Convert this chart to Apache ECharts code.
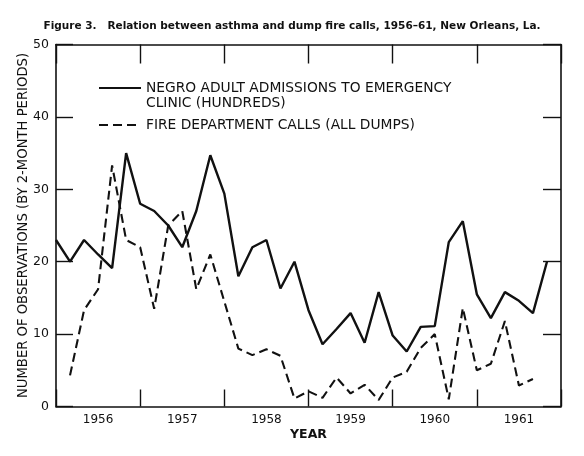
<!DOCTYPE html>
<html>
<head>
<meta charset="utf-8">
<script src="https://cdn.jsdelivr.net/npm/echarts@6/dist/echarts.min.js"></script>
<style>
  html, body { margin: 0; padding: 0; background: #ffffff; }
  #chart { width: 584px; height: 456px; }
</style>
</head>
<body>
<div id="chart"></div>
<script>
// Year labels (each year = 6 two-month periods)
var years = ['1956', '1957', '1958', '1959', '1960', '1961'];
// Two-month period index from Jan 1956
var periods = [0,1,2,3,4,5,6,7,8,9,10,11,12,13,14,15,16,17,18,19,20,21,22,23,24,25,26,27,28,29,30,31,32,33,34,35];
// Negro adult admissions to emergency clinic (hundreds)
var admissions = [23,20,23,21,19.1,35,28,27,25,22,27,34.7,29.4,18,22,23,16.3,20,13.3,8.6,10.7,12.9,8.8,15.8,9.8,7.6,11.0,11.1,22.7,25.6,15.5,12.2,15.8,14.6,12.9,20];
// Fire department calls (all dumps)
var fireCalls = [null,4.3,13.3,16.2,33.3,23,22,13.5,25,27,16.2,21,14.5,8,7.1,7.9,7.0,1.1,2.1,1.2,4.0,1.8,3.0,0.9,4.0,4.8,8.1,10.0,1.0,13.6,5.0,5.9,11.8,2.9,3.8,null];

var nameA = 'NEGRO ADULT ADMISSIONS TO EMERGENCY\nCLINIC (HUNDREDS)';
var nameB = 'FIRE DEPARTMENT CALLS (ALL DUMPS)';

function pairs(vals) {
  return periods.map(function (p, i) { return [p, vals[i]]; });
}

var ink = '#111111';
var font = 'DejaVu Sans';

var chart = echarts.init(document.getElementById('chart'), null, { renderer: 'canvas' });
chart.setOption({
  backgroundColor: '#ffffff',
  animation: false,
  title: {
    text: 'Figure 3.   Relation between asthma and dump fire calls, 1956\u201361, New Orleans, La.',
    left: 'center',
    top: 16,
    textStyle: { fontFamily: font, fontSize: 10.5, fontWeight: 'bold', color: ink }
  },
  legend: {
    orient: 'vertical',
    left: 98,
    top: 65.5,
    padding: 0,
    itemWidth: 42,
    itemHeight: 10,
    itemGap: 7,
    itemStyle: { opacity: 0 },
    textStyle: { fontFamily: font, fontSize: 13.8, color: ink, lineHeight: 15 },
    formatter: function (n) { return n === nameA ? '\n' + n : n; },
    data: [nameA, nameB]
  },
  grid: { left: 56, right: 23, top: 44.5, bottom: 49.5, containLabel: false },
  xAxis: [
    {
      type: 'category',
      position: 'bottom',
      data: years,
      boundaryGap: true,
      axisLine: { show: true, onZero: false, lineStyle: { color: ink, width: 1.6 } },
      axisTick: { show: true, inside: true, length: 17, lineStyle: { color: ink, width: 1.4 } },
      axisLabel: { color: ink, fontFamily: font, fontSize: 12, margin: 7 },
      splitLine: { show: false },
      name: 'YEAR',
      nameLocation: 'middle',
      nameGap: 22,
      nameMoveOverlap: false,
      nameTextStyle: { color: ink, fontFamily: font, fontSize: 12.5, fontWeight: 'bold' }
    },
    {
      type: 'value',
      position: 'top',
      min: 0,
      max: 36,
      interval: 6,
      axisLine: { show: true, onZero: false, lineStyle: { color: ink, width: 1.6 } },
      axisTick: { show: true, inside: true, length: 19, lineStyle: { color: ink, width: 1.4 } },
      axisLabel: { show: false },
      splitLine: { show: false }
    }
  ],
  yAxis: [
    {
      type: 'value',
      position: 'left',
      min: 0,
      max: 50,
      interval: 10,
      axisLine: { show: true, onZero: false, lineStyle: { color: ink, width: 1.6 } },
      axisTick: { show: true, inside: true, length: 17, lineStyle: { color: ink, width: 1.4 } },
      axisLabel: { color: ink, fontFamily: font, fontSize: 12.5, margin: 7 },
      splitLine: { show: false },
      name: 'NUMBER OF OBSERVATIONS (BY 2-MONTH PERIODS)',
      nameLocation: 'middle',
      nameRotate: 90,
      nameGap: 26,
      nameMoveOverlap: false,
      nameTextStyle: { color: ink, fontFamily: font, fontSize: 13.2 }
    },
    {
      type: 'value',
      position: 'right',
      min: 0,
      max: 50,
      interval: 10,
      axisLine: { show: true, onZero: false, lineStyle: { color: ink, width: 1.6 } },
      axisTick: { show: true, inside: true, length: 18, lineStyle: { color: ink, width: 1.4 } },
      axisLabel: { show: false },
      splitLine: { show: false }
    }
  ],
  series: [
    {
      name: nameA,
      type: 'line',
      xAxisIndex: 1,
      yAxisIndex: 0,
      data: pairs(admissions),
      symbol: 'none',
      lineStyle: { color: ink, width: 2.4, type: 'solid' },
      itemStyle: { color: ink }
    },
    {
      name: nameB,
      type: 'line',
      xAxisIndex: 1,
      yAxisIndex: 0,
      data: pairs(fireCalls),
      symbol: 'none',
      connectNulls: false,
      lineStyle: { color: ink, width: 2.1, type: [9, 5] },
      itemStyle: { color: ink }
    }
  ]
});
</script>
</body>
</html>
